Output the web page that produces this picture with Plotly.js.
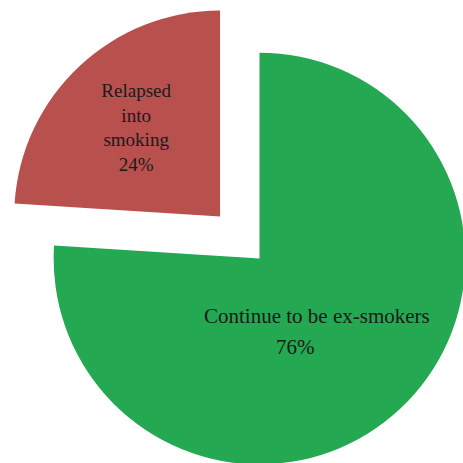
<!DOCTYPE html>
<html>
<head>
<meta charset="utf-8">
<script src="https://cdn.plot.ly/plotly-3.0.1.min.js"></script>
<style>
  html, body { margin: 0; padding: 0; width: 463px; height: 463px; overflow: hidden; background: #ffffff; }
  #chart { position: absolute; left: -4px; top: -5px; width: 527px; height: 527px; }
</style>
</head>
<body>
<div id="chart"></div>
<script>
// Data
const categories = ["Continue to be ex-smokers", "Relapsed into smoking"];
const labelLines = ["Continue to be ex-smokers", "Relapsed<br>into<br>smoking"];
const values = [76, 24];
const colors = ["#24a852", "#b8504d"];
const pulls = [0, 0.28];

const total = values.reduce((a, b) => a + b, 0);
const pct = values.map(v => Math.round(v / total * 100) + "%");

const trace = {
  type: "pie",
  labels: categories,
  values: values,
  text: labelLines,
  texttemplate: "%{text}<br>%{percent:.0%}",
  textinfo: "text",
  textposition: ["none", "inside"],
  insidetextorientation: "horizontal",
  sort: false,
  direction: "clockwise",
  rotation: 0,
  pull: pulls,
  marker: { colors: colors, line: { width: 0 } },
  textfont: { family: "Liberation Serif, serif", size: 19, color: "#1a1a1a" },
  hoverinfo: "none",
  showlegend: false
};

const labelFont = { family: "Liberation Serif, serif", size: 21, color: "#1a1a1a" };

const layout = {
  margin: { l: 0, r: 0, t: 0, b: 0 },
  paper_bgcolor: "#ffffff",
  showlegend: false,
  annotations: [
    { text: labelLines[0], xref: "paper", yref: "paper", x: 0.610, y: 0.390,
      xanchor: "center", yanchor: "middle", showarrow: false, font: labelFont },
    { text: pct[0], xref: "paper", yref: "paper", x: 0.569, y: 0.333,
      xanchor: "center", yanchor: "middle", showarrow: false, font: labelFont }
  ]
};

Plotly.newPlot("chart", [trace], layout, { staticPlot: true, displayModeBar: false });
</script>
</body>
</html>
